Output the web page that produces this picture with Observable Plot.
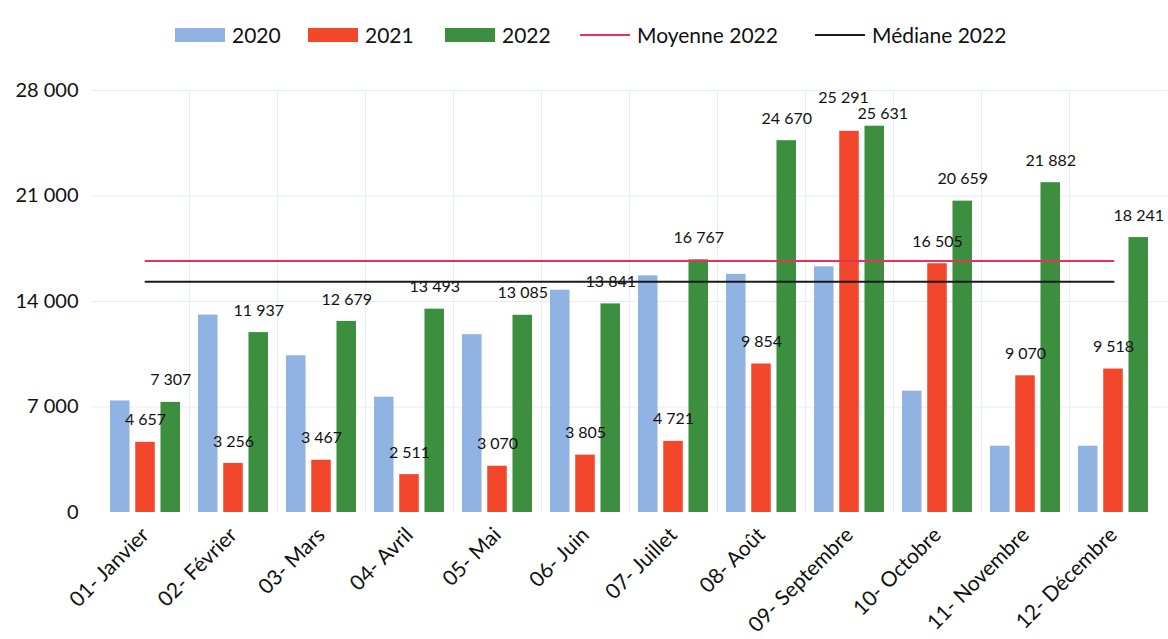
<!DOCTYPE html>
<html>
<head>
<meta charset="utf-8">
<script src="https://cdn.jsdelivr.net/npm/d3@7"></script>
<script src="https://cdn.jsdelivr.net/npm/@observablehq/plot@0.6"></script>
<style>
  html, body { margin: 0; padding: 0; background: #fff; }
  body { width: 1168px; height: 639px; overflow: hidden; font-family: Lato, "Open Sans", sans-serif; }
  #legend { height: 60px; position: relative; font-size: 21px; color: #111; }
  .item { position: absolute; top: 22px; display: flex; align-items: center; }
  .sw { width: 50px; height: 14px; margin-right: 7px; }
  .ln { width: 50px; height: 2px; margin-right: 7px; }
  #chart svg { display: block; }
</style>
</head>
<body>
<div id="legend"></div>
<div id="chart"></div>
<script>
// ---- data ----
const months = ["01- Janvier", "02- Février", "03- Mars", "04- Avril", "05- Mai", "06- Juin",
  "07- Juillet", "08- Août", "09- Septembre", "10- Octobre", "11- Novembre", "12- Décembre"];
const years = ["2020", "2021", "2022"];
const values2020 = [7400, 13100, 10400, 7650, 11800, 14750, 15700, 15800, 16300, 8050, 4400, 4400];
const values2021 = [4657, 3256, 3467, 2511, 3070, 3805, 4721, 9854, 25291, 16505, 9070, 9518];
const values2022 = [7307, 11937, 12679, 13493, 13085, 13841, 16767, 24670, 25631, 20659, 21882, 18241];
const yTicks = [0, 7000, 14000, 21000, 28000];
const colors = ["#90b3e3", "#f3472c", "#3b8f3f"];
const lineColors = { mean: "#e8305a", median: "#1a1a1a" };
const meanLabel = "Moyenne 2022";
const medianLabel = "Médiane 2022";

const mean2022 = d3.mean(values2022);
const median2022 = d3.median(values2022);

const series = [values2020, values2021, values2022];
const rows = [];
series.forEach((vals, i) => vals.forEach((v, j) => rows.push({ month: months[j], year: years[i], value: v })));
const stats = months.map(m => ({ month: m, mean: mean2022, median: median2022 }));

const fr = d3.formatLocale({ decimal: ",", thousands: " ", grouping: [3], currency: ["", " €"] });
const fmt = fr.format(",");

// ---- legend ----
const legend = document.getElementById("legend");
const legendItems = [
  { label: "2020", color: colors[0], type: "sw", left: 175 },
  { label: "2021", color: colors[1], type: "sw", left: 308 },
  { label: "2022", color: colors[2], type: "sw", left: 445 },
  { label: meanLabel, color: lineColors.mean, type: "ln", left: 580 },
  { label: medianLabel, color: lineColors.median, type: "ln", left: 815 }
];
legendItems.forEach(it => {
  const d = document.createElement("div");
  d.className = "item";
  d.style.left = it.left + "px";
  const s = document.createElement("span");
  s.className = it.type;
  s.style.background = it.color;
  d.appendChild(s);
  const t = document.createElement("span");
  t.textContent = it.label;
  d.appendChild(t);
  legend.appendChild(d);
});

// ---- chart ----
const barW = 20;
const step = 88.1, pad = 0.2;
const bw = step * (1 - pad);
const insets = [
  { insetLeft: 0, insetRight: bw - barW },
  { insetLeft: (bw - barW) / 2, insetRight: (bw - barW) / 2 },
  { insetLeft: bw - barW, insetRight: 0 }
];
const offsets = [-(bw - barW) / 2, 0, (bw - barW) / 2];

const marks = [];
// faint grid
marks.push(Plot.ruleY(yTicks.slice(1), { stroke: "#e6ecf3", strokeWidth: 1 }));
marks.push(Plot.ruleX(months.slice(1), { x: d => d, dx: -step / 2, y1: 0, y2: 28000, stroke: "#e6ecf3", strokeWidth: 1 }));

years.forEach((yr, i) => {
  marks.push(Plot.barY(rows.filter(r => r.year === yr), {
    x: "month", y: "value", fill: colors[i], ...insets[i]
  }));
});

marks.push(Plot.line(stats, { x: "month", y: "mean", stroke: lineColors.mean, strokeWidth: 2 }));
marks.push(Plot.line(stats, { x: "month", y: "median", stroke: lineColors.median, strokeWidth: 2 }));

const labelOpts = { fontSize: 16, fill: "#111", lineAnchor: "middle", fontFamily: "Lato, sans-serif" };
const sep = "09- Septembre";
marks.push(Plot.text(rows.filter(r => r.year === "2021" && r.month !== sep), {
  x: "month", y: "value", text: d => fmt(d.value), dx: offsets[1], dy: -22, ...labelOpts
}));
marks.push(Plot.text(rows.filter(r => r.year === "2022" && r.month !== sep), {
  x: "month", y: "value", text: d => fmt(d.value), dx: offsets[2], dy: -22, ...labelOpts
}));
marks.push(Plot.text(rows.filter(r => r.year === "2021" && r.month === sep), {
  x: "month", y: "value", text: d => fmt(d.value), dx: offsets[1] - 6, dy: -33, ...labelOpts
}));
marks.push(Plot.text(rows.filter(r => r.year === "2022" && r.month === sep), {
  x: "month", y: "value", text: d => fmt(d.value), dx: offsets[2] + 8, dy: -12, ...labelOpts
}));

marks.push(Plot.axisY({ ticks: yTicks, tickFormat: fmt, tickSize: 0, tickPadding: 14, fontSize: 20, label: null, fill: "#111" }));
marks.push(Plot.axisX({ tickSize: 0, tickRotate: -45, tickPadding: 19, fontSize: 21, label: null, fill: "#111" }));

const chart = Plot.plot({
  width: 1168,
  height: 579,
  marginTop: 30,
  marginBottom: 127,
  marginLeft: 92,
  marginRight: 1,
  style: { fontFamily: "Lato, sans-serif", background: "#fff" },
  x: { type: "band", domain: months, padding: pad },
  y: { domain: [0, 28000] },
  marks
});
document.getElementById("chart").appendChild(chart);
</script>
</body>
</html>
